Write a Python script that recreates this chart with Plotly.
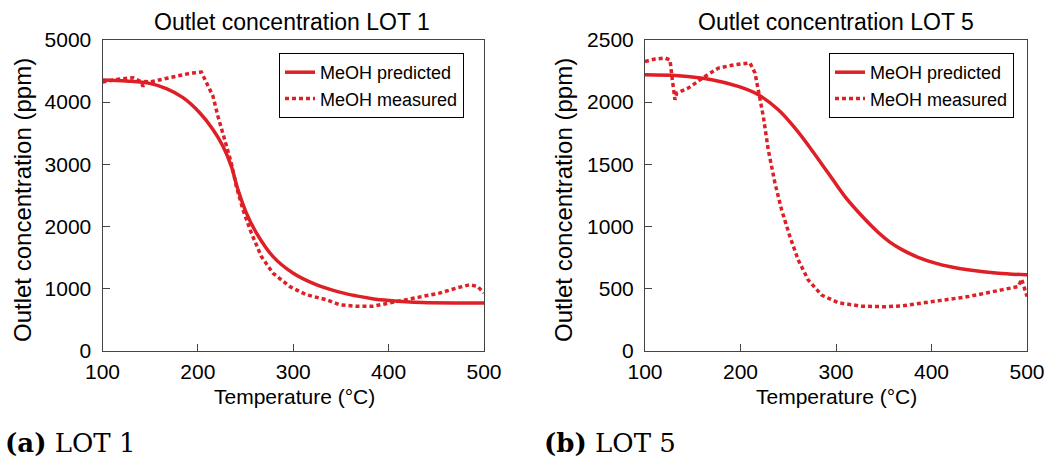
import plotly.graph_objects as go

# LOT 1 — predicted (model) curve
t1_pred = [100, 125, 149.5, 167, 184.4, 201.9, 215.8, 226.3, 235, 242, 250.8, 261.3, 278.6,
           299.6, 324, 348.5, 366, 383, 400.8, 418, 435.7, 470, 500]
c1_pred = [4355, 4339, 4302, 4216, 4071, 3829, 3560, 3290, 2968, 2592, 2216, 1894, 1516,
           1248, 1060, 940, 880, 835, 805, 785, 773, 765, 763]

# LOT 1 — measured curve
t1_meas = [100, 114.7, 132, 140, 142.5, 145, 149.5, 160, 177.5, 191.4, 203.7, 208.9, 215.8,
           221, 228, 235, 240.3, 247.2, 256, 266.5, 278.6, 296.1, 313.6, 334.6, 348.5,
           366, 383.4, 400.8, 418.3, 435.7, 453.2, 470.7, 484.6, 493.3, 500]
c1_meas = [4323, 4366, 4393, 4330, 4250, 4330, 4323, 4355, 4420, 4463, 4484, 4313, 4097,
           3774, 3398, 3023, 2645, 2269, 1894, 1516, 1248, 1032, 898, 818, 737,
           712, 712, 763, 816, 870, 924, 1004, 1058, 1031, 924]

# LOT 5 — predicted (model) curve
t5_pred = [100, 134.9, 169.8, 197.7, 218.7, 239.6, 257.1, 274.5, 292, 309.4, 326.9, 344.3,
           356, 369, 386, 404, 421, 438, 470, 500]
c5_pred = [2220, 2212, 2180, 2126, 2059, 1938, 1790, 1615, 1427, 1239, 1085, 950,
           875, 812, 750, 703, 672, 650, 622, 609]

# LOT 5 — measured curve
t5_meas = [100, 110.5, 120.9, 126.2, 128.6, 131.4, 133.2, 145.3, 162.8, 176.8, 194.2, 209.9,
           215.2, 220.4, 223.9, 229.1, 236.1, 243.1, 251.8, 260.5, 271, 285, 302.4, 326.9,
           351.3, 368.8, 403.7, 438.5, 473.5, 490.9, 494.4, 500]
c5_meas = [2327, 2347, 2355, 2340, 2180, 2019, 2073, 2113, 2207, 2274, 2301, 2315,
           2234, 2045, 1884, 1615, 1347, 1131, 916, 728, 567, 446, 384, 357,
           352, 359, 394, 434, 488, 515, 575, 434]

x_ticks = [100, 200, 300, 400, 500]
y1_ticks = [0, 1000, 2000, 3000, 4000, 5000]
y5_ticks = [0, 500, 1000, 1500, 2000, 2500]

RED = "rgb(222,32,38)"
FONT = "Liberation Sans, Arial, sans-serif"
SERIF = "DejaVu Serif, Liberation Serif, serif"
W, H = 1046, 457


def px(x):
    return x / W


def py(y):
    return (H - y) / H


fig = go.Figure()

panels = [
    ("x", "y", "legend", t1_pred, c1_pred, t1_meas, c1_meas),
    ("x2", "y2", "legend2", t5_pred, c5_pred, t5_meas, c5_meas),
]
for xa, ya, lg, tp, cp, tm, cm in panels:
    fig.add_trace(go.Scatter(x=tp, y=cp, mode="lines", name="MeOH predicted",
                             line=dict(color=RED, width=3.5, shape="spline", smoothing=1),
                             xaxis=xa, yaxis=ya, legend=lg))
    fig.add_trace(go.Scatter(x=tm, y=cm, mode="lines", name="MeOH measured",
                             line=dict(color=RED, width=3.5, dash="4px,3px"),
                             xaxis=xa, yaxis=ya, legend=lg))

axis_common = dict(showgrid=False, zeroline=False, showline=True, linecolor="#444", linewidth=1,
                   mirror=True, ticks="inside", ticklen=7, tickcolor="#444", automargin=False,
                   tickfont=dict(family=FONT, size=21, color="black"))

ydom = [py(350.5), py(40)]
legend_common = dict(xanchor="right", yanchor="top", bgcolor="white", bordercolor="black",
                     borderwidth=1, font=dict(family=FONT, size=18, color="black"),
                     tracegroupgap=0, itemwidth=30)

fig.update_layout(
    width=W, height=H,
    margin=dict(l=0, r=0, t=0, b=0, autoexpand=False),
    paper_bgcolor="white", plot_bgcolor="white",
    font=dict(family=FONT, color="black"),
    xaxis=dict(domain=[px(102.5), px(484)], range=[100, 500], tickvals=x_ticks, anchor="y",
               ticklabelstandoff=2, **axis_common),
    yaxis=dict(domain=ydom, range=[0, 5000], tickvals=y1_ticks, anchor="x",
               ticklabelstandoff=6, **axis_common),
    xaxis2=dict(domain=[px(645), px(1027)], range=[100, 500], tickvals=x_ticks, anchor="y2",
                ticklabelstandoff=2, **axis_common),
    yaxis2=dict(domain=ydom, range=[0, 2500], tickvals=y5_ticks, anchor="x2",
                ticklabelstandoff=6, **axis_common),
    legend=dict(x=px(464), y=py(53), **legend_common),
    legend2=dict(x=px(1014), y=py(53), **legend_common),
    showlegend=True,
)

# panel titles
for xc, txt in [(292, "Outlet concentration LOT 1"), (836, "Outlet concentration LOT 5")]:
    fig.add_annotation(x=px(xc), y=py(22), xref="paper", yref="paper", text=txt,
                       showarrow=False, font=dict(family=FONT, size=23, color="black"),
                       xanchor="center", yanchor="middle")

# axis titles
for xc in [294, 836]:
    fig.add_annotation(x=px(xc), y=py(396), xref="paper", yref="paper", text="Temperature (°C)",
                       showarrow=False, font=dict(family=FONT, size=21, color="black"),
                       xanchor="center", yanchor="middle")
for xc in [22, 563]:
    fig.add_annotation(x=px(xc), y=py(200), xref="paper", yref="paper",
                       text="Outlet concentration (ppm)", textangle=-90,
                       showarrow=False, font=dict(family=FONT, size=24, color="black"),
                       xanchor="center", yanchor="middle")

# sub-figure captions
for xl, tag, lot in [(3, "(a)", "LOT 1"), (542, "(b)", "LOT 5")]:
    fig.add_annotation(x=px(xl), y=py(443), xref="paper", yref="paper",
                       text=f"<b>{tag}</b> {lot}", showarrow=False,
                       font=dict(family=SERIF, size=26, color="black"),
                       xanchor="left", yanchor="middle")

fig.write_html("out.html")
